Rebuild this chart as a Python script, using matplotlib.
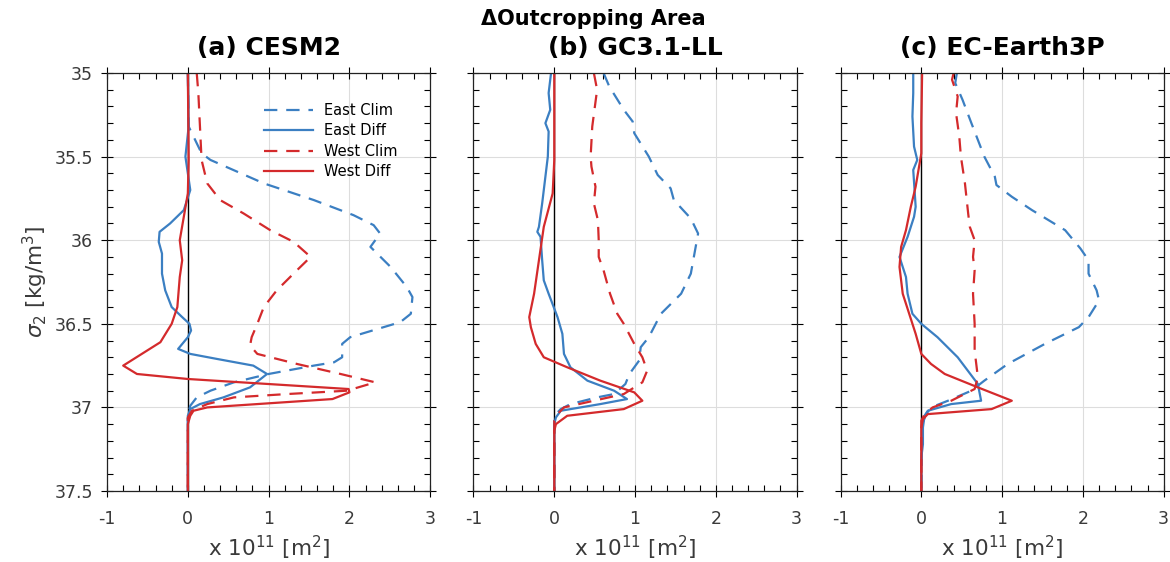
import numpy as np
import matplotlib
matplotlib.use("Agg")
import matplotlib.pyplot as plt
from matplotlib.ticker import MultipleLocator

# sigma_2 levels / x 1e11 m^2
# (a) CESM2
a_ec_y = [35.0, 35.32, 35.48, 35.52, 35.66, 35.76, 35.85, 35.91, 35.96, 36.04, 36.16, 36.28, 36.34, 36.44, 36.49,
          36.58, 36.62, 36.70, 36.73, 36.75, 36.80, 36.85, 36.90, 36.94, 36.99, 37.05, 37.5]
a_ec_x = [0.0, 0.01, 0.17, 0.28, 0.94, 1.56, 2.05, 2.30, 2.38, 2.26, 2.51, 2.71, 2.78, 2.76, 2.63,
          2.01, 1.91, 1.91, 1.81, 1.56, 1.0, 0.57, 0.28, 0.11, 0.03, 0.0, 0.0]
a_ed_y = [35.0, 35.32, 35.50, 35.70, 35.82, 35.90, 35.95, 36.01, 36.08, 36.20, 36.30, 36.40, 36.46, 36.50, 36.54,
          36.58, 36.65, 36.68, 36.71, 36.75, 36.80, 36.88, 36.94, 36.98, 37.01, 37.05, 37.5]
a_ed_x = [0.0, 0.01, -0.03, 0.03, -0.05, -0.22, -0.35, -0.36, -0.32, -0.32, -0.28, -0.20, -0.07, 0.02, 0.04,
          0.0, -0.12, 0.03, 0.36, 0.81, 0.98, 0.77, 0.44, 0.15, 0.03, 0.0, 0.0]
a_wc_y = [35.0, 35.12, 35.32, 35.52, 35.66, 35.76, 35.84, 35.94, 36.01, 36.10, 36.18, 36.30, 36.40, 36.50, 36.58,
          36.63, 36.68, 36.74, 36.80, 36.85, 36.90, 36.92, 36.94, 36.98, 37.02, 37.06, 37.5]
a_wc_x = [0.11, 0.13, 0.15, 0.17, 0.24, 0.40, 0.69, 1.02, 1.31, 1.52, 1.35, 1.10, 0.94, 0.86, 0.79,
          0.77, 0.86, 1.35, 1.89, 2.32, 1.97, 1.23, 0.57, 0.24, 0.05, 0.0, 0.0]
a_wd_y = [35.0, 35.52, 35.72, 35.86, 36.00, 36.12, 36.22, 36.40, 36.50, 36.61, 36.75, 36.80, 36.83, 36.89, 36.91,
          36.95, 37.00, 37.02, 37.05, 37.10, 37.5]
a_wd_x = [0.0, 0.01, 0.0, -0.05, -0.10, -0.07, -0.10, -0.13, -0.20, -0.34, -0.80, -0.63, 0.0, 1.99, 2.0,
          1.79, 0.24, 0.07, 0.03, 0.0, 0.0]

# (b) GC3.1-LL
b_ec_y = [35.0, 35.08, 35.22, 35.29, 35.36, 35.50, 35.61, 35.69, 35.76, 35.87, 35.96, 36.04, 36.20, 36.32, 36.44,
          36.58, 36.64, 36.72, 36.80, 36.86, 36.92, 36.94, 36.98, 37.01, 37.04, 37.08, 37.5]
b_ec_x = [0.61, 0.68, 0.86, 0.97, 0.99, 1.17, 1.28, 1.44, 1.48, 1.69, 1.78, 1.75, 1.69, 1.57, 1.32,
          1.17, 1.07, 1.05, 0.93, 0.88, 0.74, 0.53, 0.20, 0.08, 0.02, 0.0, 0.0]
b_ed_y = [35.0, 35.12, 35.22, 35.30, 35.35, 35.50, 35.62, 35.78, 35.92, 35.95, 35.98, 36.12, 36.24, 36.32, 36.46,
          36.56, 36.68, 36.76, 36.84, 36.90, 36.95, 36.98, 37.02, 37.06, 37.10, 37.5]
b_ed_x = [-0.04, -0.07, -0.05, -0.11, -0.07, -0.08, -0.11, -0.15, -0.19, -0.21, -0.17, -0.15, -0.13, -0.07, 0.04,
          0.10, 0.12, 0.20, 0.41, 0.74, 0.90, 0.57, 0.08, 0.02, 0.0, 0.0]
b_wc_y = [35.0, 35.10, 35.32, 35.50, 35.56, 35.68, 35.78, 35.88, 36.00, 36.10, 36.18, 36.32, 36.44, 36.50, 36.62,
          36.70, 36.78, 36.85, 36.92, 36.96, 37.00, 37.04, 37.08, 37.5]
b_wc_x = [0.49, 0.53, 0.47, 0.45, 0.46, 0.51, 0.49, 0.54, 0.55, 0.55, 0.61, 0.69, 0.78, 0.86, 0.99,
          1.09, 1.15, 1.09, 0.86, 0.49, 0.12, 0.04, 0.0, 0.0]
b_wd_y = [35.0, 35.52, 35.72, 35.92, 36.12, 36.32, 36.46, 36.52, 36.62, 36.70, 36.76, 36.84, 36.91, 36.96,
          37.01, 37.05, 37.10, 37.14, 37.5]
b_wd_x = [0.0, 0.0, -0.02, -0.13, -0.19, -0.25, -0.31, -0.29, -0.23, -0.13, 0.16, 0.57, 0.99, 1.09,
          0.86, 0.16, 0.02, 0.0, 0.0]

# (c) EC-Earth3P
c_ec_y = [35.0, 35.06, 35.16, 35.30, 35.40, 35.50, 35.62, 35.67, 35.74, 35.82, 35.94, 36.05, 36.12, 36.20, 36.30,
          36.36, 36.46, 36.52, 36.62, 36.74, 36.84, 36.90, 36.96, 37.00, 37.04, 37.10, 37.5]
c_ec_x = [0.44, 0.42, 0.51, 0.62, 0.70, 0.78, 0.91, 0.93, 1.12, 1.37, 1.78, 1.97, 2.07, 2.07, 2.17,
          2.20, 2.07, 1.95, 1.53, 1.07, 0.78, 0.62, 0.33, 0.12, 0.06, 0.01, 0.0]
c_ed_y = [35.0, 35.12, 35.26, 35.44, 35.52, 35.58, 35.80, 35.86, 35.98, 36.10, 36.16, 36.22, 36.32, 36.44, 36.50,
          36.58, 36.70, 36.86, 36.96, 36.98, 37.02, 37.05, 37.12, 37.22, 37.30, 37.5]
c_ed_x = [-0.10, -0.10, -0.11, -0.09, -0.05, -0.10, -0.07, -0.09, -0.17, -0.27, -0.23, -0.19, -0.17, -0.11, 0.0,
          0.20, 0.45, 0.70, 0.74, 0.37, 0.08, 0.04, 0.02, 0.02, 0.0, 0.0]
c_wc_y = [35.0, 35.04, 35.14, 35.24, 35.38, 35.50, 35.66, 35.84, 35.92, 36.00, 36.10, 36.18, 36.32, 36.50, 36.66,
          36.82, 36.89, 36.96, 37.00, 37.04, 37.08, 37.5]
c_wc_x = [0.40, 0.38, 0.45, 0.43, 0.47, 0.49, 0.54, 0.58, 0.60, 0.66, 0.64, 0.66, 0.64, 0.66, 0.66,
          0.70, 0.66, 0.37, 0.14, 0.04, 0.0, 0.0]
c_wd_y = [35.0, 35.30, 35.48, 35.68, 35.80, 35.94, 36.04, 36.16, 36.32, 36.44, 36.56, 36.68, 36.74, 36.80, 36.88,
          36.96, 37.01, 37.04, 37.07, 37.12, 37.5]
c_wd_x = [0.01, 0.0, 0.0, -0.07, -0.13, -0.19, -0.25, -0.27, -0.23, -0.15, -0.07, 0.0, 0.12, 0.29, 0.70,
          1.12, 0.87, 0.08, 0.02, 0.0, 0.0]

panels = [
    ("(a) CESM2", (a_ec_x, a_ec_y), (a_ed_x, a_ed_y), (a_wc_x, a_wc_y), (a_wd_x, a_wd_y)),
    ("(b) GC3.1-LL", (b_ec_x, b_ec_y), (b_ed_x, b_ed_y), (b_wc_x, b_wc_y), (b_wd_x, b_wd_y)),
    ("(c) EC-Earth3P", (c_ec_x, c_ec_y), (c_ed_x, c_ed_y), (c_wc_x, c_wc_y), (c_wd_x, c_wd_y)),
]
xticks = [-1, 0, 1, 2, 3]
yticks = [35, 35.5, 36, 36.5, 37, 37.5]

blue = "#3b7fc2"
red = "#d42a2c"
grey = "#3a3a3a"

fig = plt.figure(figsize=(11.7, 5.62), dpi=100)
lefts = [0.0915, 0.4047, 0.7184]
width = 0.2762
bottom, height = 0.1263, 0.7438

for i, (name, ec, ed, wc, wd) in enumerate(panels):
    ax = fig.add_axes([lefts[i], bottom, width, height])
    ax.grid(True, color="#dddddd", lw=0.8)
    ax.set_axisbelow(True)
    ax.axvline(0, color="k", lw=1.0, zorder=1)
    ax.plot(ec[0], ec[1], color=blue, ls=(0, (6, 4)), lw=1.6, label="East Clim")
    ax.plot(ed[0], ed[1], color=blue, ls="-", lw=1.6, label="East Diff")
    ax.plot(wc[0], wc[1], color=red, ls=(0, (6, 4)), lw=1.6, label="West Clim")
    ax.plot(wd[0], wd[1], color=red, ls="-", lw=1.6, label="West Diff")
    ax.set_xlim(-1, 3)
    ax.set_ylim(37.5, 35)
    ax.set_xticks(xticks)
    ax.set_xticklabels([str(t) for t in xticks])
    ax.set_yticks(yticks)
    ax.xaxis.set_minor_locator(MultipleLocator(0.2))
    ax.yaxis.set_minor_locator(MultipleLocator(0.1))
    ax.tick_params(which="major", direction="inout", length=8, width=0.8, top=True, right=True,
                   labelsize=12.5, labelcolor=grey, pad=6)
    ax.tick_params(axis="x", which="major", pad=10)
    ax.tick_params(which="minor", direction="in", length=4, width=0.8, top=True, right=True)
    if i == 0:
        ax.set_yticklabels([("%g" % t) for t in yticks])
        ax.set_ylabel(r"$\sigma_2$ [kg/m$^3$]", fontsize=15.5, color=grey, labelpad=3)
        ax.legend(loc="upper right", frameon=False, fontsize=10.5, handlelength=3.3,
                  bbox_to_anchor=(0.94, 0.96), labelspacing=0.38, handletextpad=0.8)
    else:
        ax.set_yticklabels([])
    ax.set_xlabel(r"x 10$^{11}$ [m$^2$]", fontsize=15.5, color=grey, labelpad=4)
    ax.set_title(name, fontsize=18, fontweight="bold", pad=13)
    for s in ax.spines.values():
        s.set_linewidth(0.9)
        s.set_color("#222222")

fig.text(0.507, 0.967, "ΔOutcropping Area", ha="center", va="center", fontsize=15,
         fontweight="bold")

fig.savefig("out.png", dpi=100)
